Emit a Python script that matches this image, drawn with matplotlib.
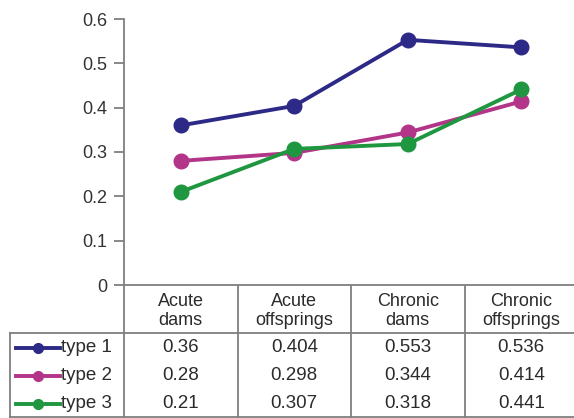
import matplotlib.pyplot as plt
import numpy as np

categories = ["Acute\ndams", "Acute\noffsprings", "Chronic\ndams", "Chronic\noffsprings"]
series_names = ["type 1", "type 2", "type 3"]
type1 = [0.36, 0.404, 0.553, 0.536]
type2 = [0.28, 0.298, 0.344, 0.414]
type3 = [0.21, 0.307, 0.318, 0.441]
yticks = [0, 0.1, 0.2, 0.3, 0.4, 0.5, 0.6]

colors = ["#2d2a87", "#b23589", "#1f9640"]
series = [type1, type2, type3]

W, H = 574, 418
fig = plt.figure(figsize=(W / 100, H / 100), dpi=100)
plt.rcParams["font.family"] = ["Liberation Sans", "DejaVu Sans"]
txt_c = "#2b2b2b"

# plot area in pixel units of the original picture
left, right, top, base = 124, 578, 19, 285
ax = fig.add_axes([left / W, 1 - base / H, (right - left) / W, (base - top) / H])
x = np.arange(len(categories)) + 0.5
for vals, c in zip(series, colors):
    ax.plot(x, vals, "-o", color=c, lw=2.8, ms=10.5, mec=c, mfc=c, zorder=3)

ax.set_xlim(0, len(categories))
ax.set_ylim(0, 0.6)
ax.set_yticks(yticks)
ax.set_yticklabels(["0" if v == 0 else f"{v:.1f}" for v in yticks])
ax.set_xticks([])
for s in ["top", "right"]:
    ax.spines[s].set_visible(False)
for s in ["left", "bottom"]:
    ax.spines[s].set_color("#7f7f7f")
    ax.spines[s].set_linewidth(1.3)
ax.tick_params(axis="y", length=7, width=1.3, color="#7f7f7f",
               labelsize=13, labelcolor="#333333", pad=5)

# data table under the plot, drawn in pixel coordinates
tax = fig.add_axes([0, 0, 1, 1], zorder=-1)
tax.set_xlim(0, W)
tax.set_ylim(H, 0)
tax.axis("off")

col_w = (right - left) / len(categories)
col_edges = [left + i * col_w for i in range(len(categories) + 1)]
head_bot = 333
tab_left = 10
lc = "#7f7f7f"
for xe in col_edges:
    tax.plot([xe, xe], [base, H], color=lc, lw=1.3)
tax.plot([tab_left, right], [head_bot, head_bot], color=lc, lw=1.3)
tax.plot([tab_left, tab_left], [head_bot, H], color=lc, lw=1.3)
tax.plot([tab_left, right], [H - 0.7, H - 0.7], color=lc, lw=1.3)

for i, cat in enumerate(categories):
    tax.text(col_edges[i] + col_w / 2, (base + head_bot) / 2 + 2, cat,
             ha="center", va="center", fontsize=13, color=txt_c,
             linespacing=1.15)

row_y = [348, 376, 404]
for r, (name, vals, c) in enumerate(zip(series_names, series, colors)):
    y = row_y[r]
    tax.plot([16, 60], [y, y], color=c, lw=2.8)
    tax.plot([38], [y], "o", color=c, ms=7)
    tax.text(61, y, name, ha="left", va="center", fontsize=13.5, color=txt_c)
    for i, v in enumerate(vals):
        tax.text(col_edges[i] + col_w / 2, y, f"{v:g}", ha="center",
                 va="center", fontsize=13.5, color=txt_c)

fig.savefig("out.png", dpi=100)
